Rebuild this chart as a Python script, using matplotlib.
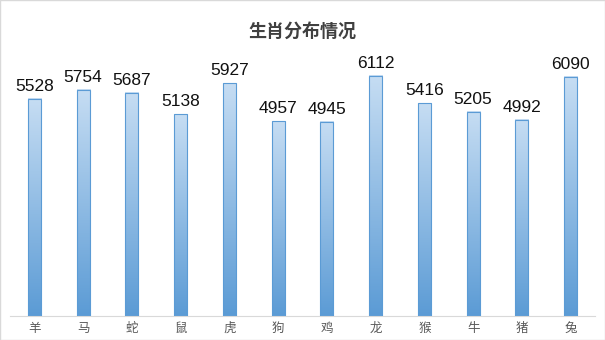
import numpy as np
import matplotlib
matplotlib.use('Agg')
import matplotlib.pyplot as plt
from matplotlib.colors import LinearSegmentedColormap

plt.rcParams['font.family'] = ['Noto Sans CJK SC', 'DejaVu Sans']

zodiac = ['羊', '马', '蛇', '鼠', '虎', '狗', '鸡', '龙', '猴', '牛', '猪', '兔']
counts = [5528, 5754, 5687, 5138, 5927, 4957, 4945, 6112, 5416, 5205, 4992, 6090]

fig = plt.figure(figsize=(6.05, 3.4), dpi=100)
ax = fig.add_axes([10 / 605, 24 / 340, 585 / 605, 275 / 340])

cmap = LinearSegmentedColormap.from_list('bar', ['#5b9bd5', '#c6ddf3'])
grad = np.linspace(0, 1, 256).reshape(-1, 1)
width = 0.27

x = np.arange(len(zodiac))
bars = ax.bar(x, counts, width=width, color='none', edgecolor='#5b9bd5', linewidth=0.8, zorder=3)
for xi, v in zip(x, counts):
    ax.imshow(grad, cmap=cmap, origin='lower', aspect='auto',
              extent=(xi - width / 2, xi + width / 2, 0, v), zorder=2)
    ax.annotate(str(v), (xi, v), xytext=(0, 3.5), textcoords='offset points',
                ha='center', va='bottom', fontsize=12.5,
                family=['Liberation Sans', 'DejaVu Sans'], color='#111111')

ax.set_xlim(-0.5, len(zodiac) - 0.5)
ax.set_ylim(0, 7000)
ax.set_xticks(x)
ax.set_xticklabels(zodiac, fontsize=9, color='#595959')
ax.tick_params(axis='x', length=0, pad=4)
ax.set_yticks([])
for s in ['top', 'left', 'right']:
    ax.spines[s].set_visible(False)
ax.spines['bottom'].set_color('#d9d9d9')
ax.patch.set_alpha(0)

fig.text(0.5, 1 - 31 / 340, '生肖分布情况', ha='center', va='center',
         fontsize=13, fontweight='bold', color='#404040')

fig.patches.append(plt.Rectangle((0, 0), 1, 1, transform=fig.transFigure,
                                 fill=False, edgecolor='#d9d9d9', linewidth=1))

fig.savefig('out.png', dpi=100)
